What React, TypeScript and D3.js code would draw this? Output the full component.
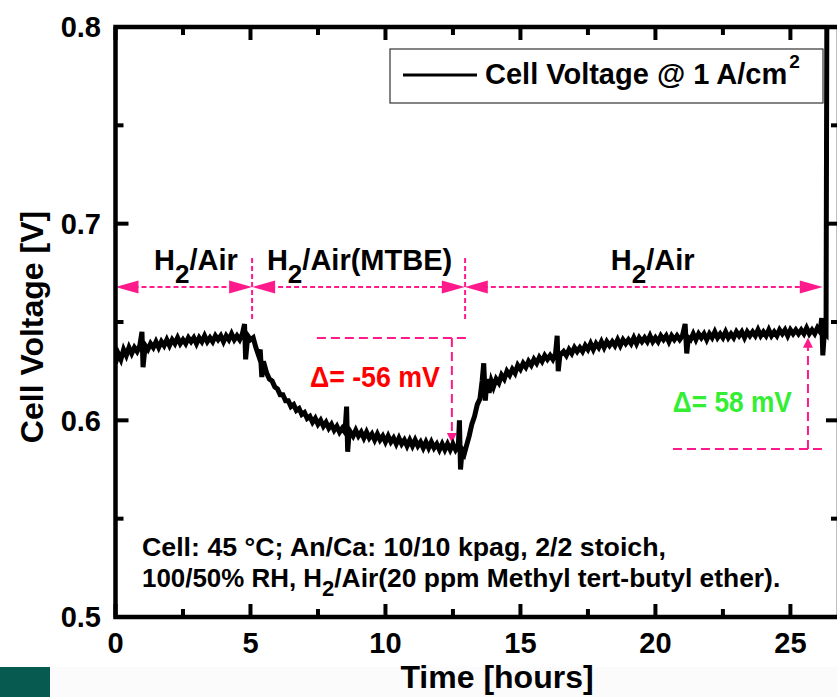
import React from 'react';
import * as d3 from 'd3';

// [time (hours), cell voltage (V)]
const voltageTrace: [number, number][] = [
  [0.0, 0.629], [0.1, 0.634], [0.2, 0.631], [0.3, 0.636], [0.4, 0.633], [0.5, 0.637], [0.6, 0.634], [0.7, 0.637],
  [0.8, 0.635], [0.9, 0.638], [0.98, 0.645], [1.02, 0.627], [1.1, 0.638], [1.2, 0.636], [1.3, 0.639], [1.4, 0.637],
  [1.5, 0.64], [1.6, 0.637], [1.7, 0.64], [1.8, 0.638], [1.9, 0.641], [2.0, 0.638], [2.1, 0.641], [2.2, 0.639],
  [2.3, 0.642], [2.4, 0.639], [2.5, 0.641], [2.6, 0.639], [2.7, 0.642], [2.8, 0.64], [2.9, 0.642], [3.0, 0.639],
  [3.1, 0.642], [3.2, 0.64], [3.3, 0.643], [3.4, 0.64], [3.5, 0.642], [3.6, 0.64], [3.7, 0.643], [3.8, 0.641],
  [3.9, 0.643], [4.0, 0.64], [4.1, 0.643], [4.2, 0.641], [4.3, 0.644], [4.4, 0.641], [4.5, 0.643], [4.6, 0.641],
  [4.7, 0.644], [4.78, 0.649], [4.82, 0.631], [4.9, 0.643], [5.0, 0.641], [5.1, 0.642], [5.2, 0.637], [5.3, 0.633],
  [5.36, 0.636], [5.42, 0.622], [5.48, 0.63], [5.6, 0.624], [5.7, 0.621], [5.8, 0.62], [5.9, 0.617], [6.0, 0.616],
  [6.1, 0.613], [6.2, 0.613], [6.3, 0.61], [6.4, 0.61], [6.5, 0.607], [6.6, 0.608], [6.7, 0.605], [6.8, 0.606],
  [6.9, 0.603], [7.0, 0.604], [7.1, 0.601], [7.2, 0.602], [7.3, 0.599], [7.4, 0.601], [7.5, 0.598], [7.6, 0.6],
  [7.7, 0.597], [7.8, 0.599], [7.9, 0.596], [8.0, 0.598], [8.1, 0.595], [8.2, 0.597], [8.3, 0.594], [8.4, 0.596],
  [8.5, 0.594], [8.56, 0.607], [8.6, 0.584], [8.66, 0.595], [8.8, 0.592], [8.9, 0.595], [9.0, 0.592], [9.1, 0.594],
  [9.2, 0.591], [9.3, 0.594], [9.4, 0.591], [9.5, 0.593], [9.6, 0.59], [9.7, 0.593], [9.8, 0.59], [9.9, 0.592],
  [10.0, 0.589], [10.1, 0.592], [10.2, 0.589], [10.3, 0.591], [10.4, 0.588], [10.5, 0.591], [10.6, 0.588], [10.7, 0.59],
  [10.8, 0.587], [10.9, 0.59], [11.0, 0.587], [11.1, 0.59], [11.2, 0.587], [11.3, 0.589], [11.4, 0.586], [11.5, 0.589],
  [11.6, 0.586], [11.7, 0.589], [11.8, 0.586], [11.9, 0.588], [12.0, 0.585], [12.1, 0.588], [12.2, 0.585], [12.3, 0.588],
  [12.4, 0.585], [12.5, 0.588], [12.6, 0.585], [12.7, 0.587], [12.74, 0.6], [12.78, 0.575], [12.84, 0.585], [12.92, 0.583],
  [13.0, 0.587], [13.1, 0.592], [13.2, 0.598], [13.3, 0.602], [13.4, 0.608], [13.5, 0.611], [13.58, 0.62], [13.64, 0.629],
  [13.7, 0.61], [13.76, 0.621], [13.84, 0.614], [13.92, 0.62], [14.0, 0.617], [14.1, 0.621], [14.2, 0.619], [14.3, 0.623],
  [14.4, 0.621], [14.5, 0.625], [14.6, 0.623], [14.7, 0.626], [14.8, 0.624], [14.9, 0.628], [15.0, 0.626], [15.1, 0.629],
  [15.2, 0.627], [15.3, 0.63], [15.4, 0.628], [15.5, 0.631], [15.6, 0.629], [15.7, 0.632], [15.8, 0.63], [15.9, 0.633],
  [16.0, 0.631], [16.1, 0.633], [16.2, 0.631], [16.3, 0.634], [16.36, 0.643], [16.4, 0.625], [16.46, 0.633], [16.6, 0.635],
  [16.7, 0.633], [16.8, 0.636], [16.9, 0.634], [17.0, 0.637], [17.1, 0.635], [17.2, 0.637], [17.3, 0.635], [17.4, 0.638],
  [17.5, 0.636], [17.6, 0.639], [17.7, 0.636], [17.8, 0.639], [17.9, 0.637], [18.0, 0.64], [18.1, 0.637], [18.2, 0.64],
  [18.3, 0.638], [18.4, 0.64], [18.5, 0.638], [18.6, 0.641], [18.7, 0.638], [18.8, 0.641], [18.9, 0.639], [19.0, 0.641],
  [19.1, 0.639], [19.2, 0.642], [19.3, 0.639], [19.4, 0.642], [19.5, 0.64], [19.6, 0.642], [19.7, 0.64], [19.8, 0.643],
  [19.9, 0.64], [20.0, 0.642], [20.1, 0.64], [20.2, 0.643], [20.3, 0.641], [20.4, 0.643], [20.5, 0.64], [20.6, 0.643],
  [20.7, 0.641], [20.8, 0.643], [20.9, 0.641], [21.0, 0.643], [21.1, 0.649], [21.16, 0.634], [21.22, 0.642], [21.3, 0.641],
  [21.4, 0.644], [21.5, 0.641], [21.6, 0.644], [21.7, 0.642], [21.8, 0.644], [21.9, 0.641], [22.0, 0.644], [22.1, 0.642],
  [22.2, 0.645], [22.3, 0.642], [22.4, 0.644], [22.5, 0.642], [22.6, 0.645], [22.7, 0.642], [22.8, 0.644], [22.9, 0.642],
  [23.0, 0.645], [23.1, 0.643], [23.2, 0.645], [23.3, 0.642], [23.4, 0.645], [23.5, 0.643], [23.6, 0.645], [23.7, 0.643],
  [23.8, 0.646], [23.9, 0.643], [24.0, 0.645], [24.1, 0.643], [24.2, 0.646], [24.3, 0.643], [24.4, 0.645], [24.5, 0.643],
  [24.6, 0.646], [24.7, 0.644], [24.8, 0.646], [24.9, 0.643], [25.0, 0.646], [25.1, 0.644], [25.2, 0.646], [25.3, 0.644],
  [25.4, 0.646], [25.5, 0.644], [25.6, 0.647], [25.7, 0.644], [25.8, 0.646], [25.9, 0.644], [26.0, 0.647], [26.1, 0.645],
  [26.16, 0.652], [26.2, 0.633], [26.26, 0.645], [26.32, 0.644], [26.36, 0.86],
];

const xMajorTicks = [0, 5, 10, 15, 20, 25];
const xMinorTicks = [2.5, 7.5, 12.5, 17.5, 22.5];
const yMajorTicks = [0.5, 0.6, 0.7, 0.8];
const yMinorTicks = [0.55, 0.65, 0.75];
const yTickLabels = ['0.5', '0.6', '0.7', '0.8'];

// gas-phase periods [start h, end h] and their labels
const phaseSpans: [number, number][] = [[0, 5.06], [5.06, 12.94], [12.94, 26.2]];
const phaseLabelMain = ['H', 'H', 'H'];
const phaseLabelRest = ['/Air', '/Air(MTBE)', '/Air'];
const phaseLabelCenters = [2.98, 9.04, 19.9];
const phaseArrowVoltage = 0.6678;
const phaseSwitchTimes = [5.06, 12.95];

const legendLabel = 'Cell Voltage @ 1 A/cm';
const noteLine1 = 'Cell: 45 °C; An/Ca: 10/10 kpag, 2/2 stoich,';
const noteLine2a = '100/50% RH, H';
const noteLine2b = '/Air(20 ppm Methyl tert-butyl ether).';

const W = 837;
const H = 697;
const FONT = '"Liberation Sans", Arial, Helvetica, sans-serif';
const PINK = '#ff1a8c';

export default function App() {
  const x = d3.scaleLinear().domain([0, 26.8]).range([115.5, 839]);
  const y = d3.scaleLinear().domain([0.5, 0.8]).range([617, 27]);
  const line = d3.line<[number, number]>().x((d) => x(d[0])).y((d) => y(d[1]));

  const left = x(0), right = x(26.8), top = y(0.8), bottom = y(0.5);

  const arrowHead = (tipX: number, tipY: number, dir: 'l' | 'r' | 'u' | 'd', len = 23, half = 6.5) => {
    let pts: [number, number][] = [];
    if (dir === 'l') pts = [[tipX, tipY], [tipX + len, tipY - half], [tipX + len, tipY + half]];
    if (dir === 'r') pts = [[tipX, tipY], [tipX - len, tipY - half], [tipX - len, tipY + half]];
    if (dir === 'u') pts = [[tipX, tipY], [tipX - half, tipY + len], [tipX + half, tipY + len]];
    if (dir === 'd') pts = [[tipX, tipY], [tipX - half, tipY - len], [tipX + half, tipY - len]];
    return <polygon points={pts.map((p) => p.join(',')).join(' ')} fill={PINK} />;
  };

  const ya = y(phaseArrowVoltage);

  // delta annotations
  const drop = { h0: 7.46, h1: 13.13, vt: 12.46, vTop: 0.6419, vBot: 0.5885 };
  const rec = { h0: 20.65, h1: 26.27, vt: 25.65, vTop: 0.642, vBot: 0.5854 };

  return (
    <svg width={W} height={H} style={{ position: 'absolute', left: 0, top: 0, background: '#fff' }} fontFamily={FONT}>
      <rect x={0} y={0} width={W} height={H} fill="#fff" />
      <rect x={50} y={667} width={W - 50} height={30} fill="#fbfbfb" />
      <rect x={0} y={667} width={50} height={30} fill="#065a4f" />

      <defs>
        <clipPath id="plotClip">
          <rect x={left} y={top} width={right - left} height={bottom - top} />
        </clipPath>
      </defs>

      {/* phase arrows */}
      {phaseSpans.map(([a, b], i) => (
        <g key={'ph' + i}>
          <line x1={x(a) + 10} x2={x(b) - 10} y1={ya} y2={ya} stroke={PINK} strokeWidth={2} strokeDasharray="5,3" />
          {arrowHead(x(a), ya, 'l')}
          {arrowHead(x(b), ya, 'r')}
          <text x={x(phaseLabelCenters[i])} y={270} textAnchor="middle" fontSize={29} fontWeight="bold" fill="#000">
            {phaseLabelMain[i]}
            <tspan fontSize={26} dy={13}>2</tspan>
            <tspan dy={-13}>{phaseLabelRest[i]}</tspan>
          </text>
        </g>
      ))}
      {phaseSwitchTimes.map((t, i) => (
        <line key={'sw' + i} x1={x(t)} x2={x(t)} y1={y(0.6825)} y2={y(0.6505)} stroke={PINK} strokeWidth={2} strokeDasharray="5,3" />
      ))}

      {/* delta annotations */}
      <line x1={x(drop.h0)} x2={x(drop.h1)} y1={y(drop.vTop)} y2={y(drop.vTop)} stroke={PINK} strokeWidth={2} strokeDasharray="9,5" />
      <line x1={x(drop.vt)} x2={x(drop.vt)} y1={y(drop.vTop)} y2={y(drop.vBot) - 8} stroke={PINK} strokeWidth={2} strokeDasharray="9,5" />
      {arrowHead(x(drop.vt), y(drop.vBot), 'd', 10, 5)}
      <text x={x(9.61)} y={387} textAnchor="middle" fontSize={29} fontWeight="bold" fill="#ff0000" textLength={130} lengthAdjust="spacingAndGlyphs">
        Δ= -56 mV
      </text>

      <line x1={x(rec.h0)} x2={x(rec.h1)} y1={y(rec.vBot)} y2={y(rec.vBot)} stroke={PINK} strokeWidth={2} strokeDasharray="9,5" />
      <line x1={x(rec.vt)} x2={x(rec.vt)} y1={y(rec.vBot)} y2={y(rec.vTop) + 8} stroke={PINK} strokeWidth={2} strokeDasharray="9,5" />
      {arrowHead(x(rec.vt), y(rec.vTop), 'u', 10, 5)}
      <text x={x(22.85)} y={412} textAnchor="middle" fontSize={29} fontWeight="bold" fill="#33ee33" textLength={119} lengthAdjust="spacingAndGlyphs">
        Δ= 58 mV
      </text>

      {/* data */}
      <path d={line(voltageTrace) || ''} fill="none" stroke="#000" strokeWidth={5} clipPath="url(#plotClip)" />

      {/* legend */}
      <rect x={390} y={49} width={433} height={54} fill="#fff" stroke="#333" strokeWidth={1.2} />
      <line x1={403} x2={477} y1={75} y2={75} stroke="#000" strokeWidth={3} />
      <text x={485} y={84} fontSize={29} fontWeight="bold">
        {legendLabel}
        <tspan fontSize={19} dx={2} dy={-16}>2</tspan>
      </text>

      {/* note */}
      <text x={142} y={556} fontSize={26} fontWeight="bold" textLength={524} lengthAdjust="spacingAndGlyphs">
        {noteLine1}
      </text>
      <text x={142} y={587} fontSize={26} fontWeight="bold">
        <tspan textLength={180} lengthAdjust="spacingAndGlyphs">{noteLine2a}</tspan>
        <tspan fontSize={22} dy={9}>2</tspan>
        <tspan dy={-9} textLength={446} lengthAdjust="spacingAndGlyphs">{noteLine2b}</tspan>
      </text>

      {/* frame */}
      <rect x={left} y={top} width={right - left} height={bottom - top} fill="none" stroke="#000" strokeWidth={4.5} />
      {xMajorTicks.map((t) => (
        <g key={'xM' + t}>
          <line x1={x(t)} x2={x(t)} y1={bottom} y2={bottom - 13} stroke="#000" strokeWidth={4} />
          <line x1={x(t)} x2={x(t)} y1={top} y2={top + 13} stroke="#000" strokeWidth={4} />
          <text x={x(t)} y={653} textAnchor="middle" fontSize={29} fontWeight="bold">{t}</text>
        </g>
      ))}
      {xMinorTicks.map((t) => (
        <g key={'xm' + t}>
          <line x1={x(t)} x2={x(t)} y1={bottom} y2={bottom - 8} stroke="#000" strokeWidth={4} />
          <line x1={x(t)} x2={x(t)} y1={top} y2={top + 8} stroke="#000" strokeWidth={4} />
        </g>
      ))}
      {yMajorTicks.map((v, i) => (
        <g key={'yM' + v}>
          <line x1={left} x2={left + 13} y1={y(v)} y2={y(v)} stroke="#000" strokeWidth={4} />
          <line x1={right} x2={right - 13} y1={y(v)} y2={y(v)} stroke="#000" strokeWidth={4} />
          <text x={101} y={y(v)} dy="0.36em" textAnchor="end" fontSize={29} fontWeight="bold">{yTickLabels[i]}</text>
        </g>
      ))}
      {yMinorTicks.map((v) => (
        <g key={'ym' + v}>
          <line x1={left} x2={left + 8} y1={y(v)} y2={y(v)} stroke="#000" strokeWidth={4} />
          <line x1={right} x2={right - 8} y1={y(v)} y2={y(v)} stroke="#000" strokeWidth={4} />
        </g>
      ))}

      {/* axis titles */}
      <text x={497} y={688} textAnchor="middle" fontSize={32} fontWeight="bold">Time [hours]</text>
      <text transform="translate(43,327) rotate(-90)" textAnchor="middle" fontSize={32} fontWeight="bold">Cell Voltage [V]</text>
    </svg>
  );
}
